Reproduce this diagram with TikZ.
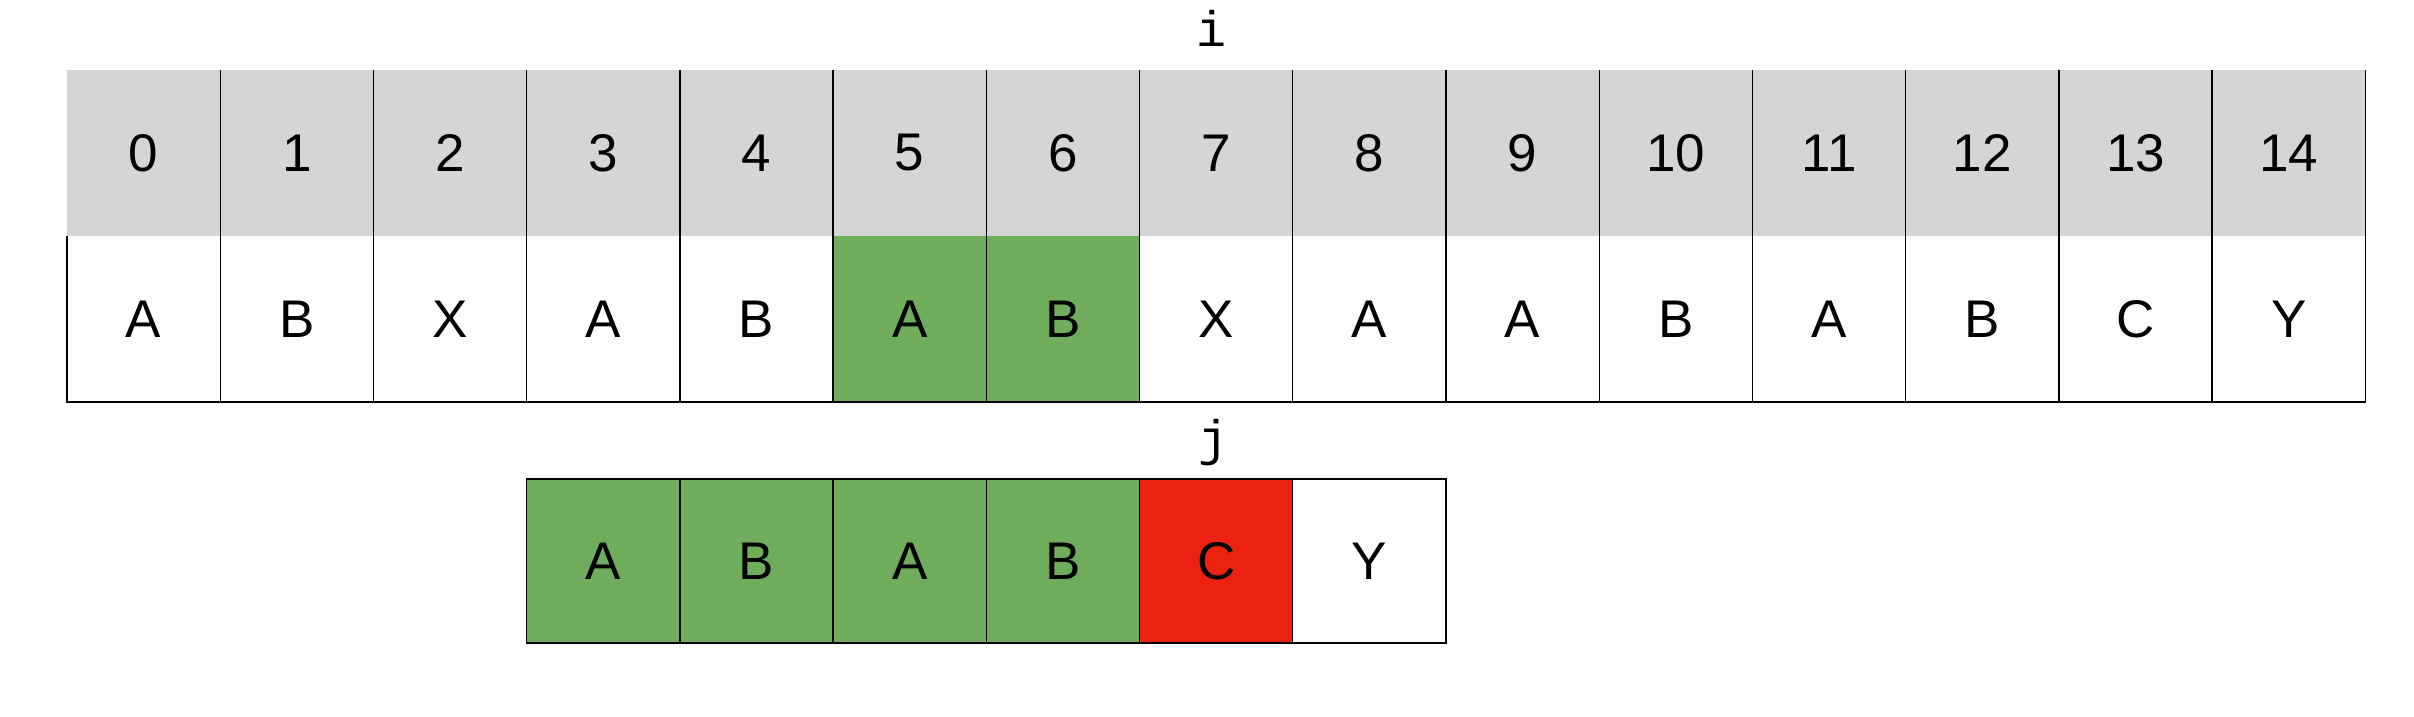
\documentclass[tikz,border=0pt]{standalone}
\usepackage{fontspec}
\usetikzlibrary{calc}
\setmainfont{Liberation Sans}
\newfontfamily\monof{Liberation Mono}
\definecolor{hdrgray}{HTML}{D5D5D5}
\definecolor{okgreen}{HTML}{6FAD5D}
\definecolor{badred}{HTML}{ED2110}
\tikzset{
  cellbox/.style={rectangle, minimum width=153.22pt, minimum height=166pt, inner sep=0pt, outer sep=0pt,
                  font=\fontsize{53}{60}\selectfont},
  hdrcell/.style={cellbox, fill=hdrgray},
  valcell/.style={cellbox, fill=white},
  patcell/.style={cellbox, minimum height=164pt, draw=black, line width=1.3pt},
  border/.style={line width=1.3pt, draw=black},
  ptr/.style={font=\monof\fontsize{50}{56}\selectfont, anchor=base, inner sep=0pt}
}
\begin{document}
\begin{tikzpicture}[x=1pt, y=-1pt]
\useasboundingbox (0,0) rectangle (2414,716);
% header row and value row
\foreach \k/\c/\f in {0/A/white,1/B/white,2/X/white,3/A/white,4/B/white,5/A/okgreen,6/B/okgreen,7/X/white,8/A/white,9/A/white,10/B/white,11/A/white,12/B/white,13/C/white,14/Y/white}{
  \node[hdrcell] (h\k) at ({67+(\k+0.5)*153.22},153) {\k};
  \node[valcell, fill=\f] (v\k) at ({67+(\k+0.5)*153.22},319) {\c};
}
% borders of the top table
\foreach \k in {1,...,14}{
  \draw[border] (h\k.north west) -- (v\k.south west);
}
\draw[border] (v0.north west) -- (v0.south west) -- (v14.south east) -- (h14.north east);
% pattern row
\foreach \k/\c/\f in {0/A/okgreen,1/B/okgreen,2/A/okgreen,3/B/okgreen,4/C/badred,5/Y/white}{
  \node[patcell, fill=\f] (p\k) at ({67+(\k+3.5)*153.22},561) {\c};
}
% pointers
\node[ptr] (ilab) at ($(h7.north)+(-5,-24)$) {i};
\node[ptr] (jlab) at ($(p4.north)+(-3,-24)$) {j};
\end{tikzpicture}
\end{document}
